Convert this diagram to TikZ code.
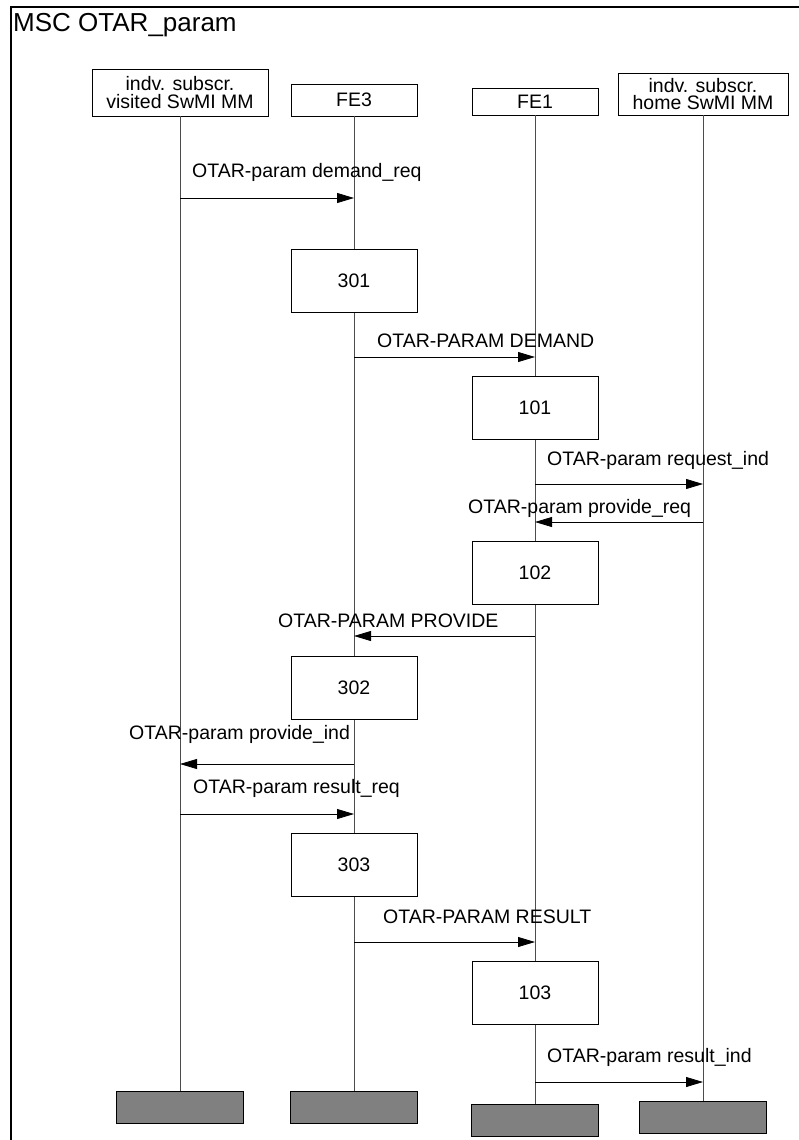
\documentclass[tikz,border=0pt]{standalone}
\usepackage{fontspec}
\setmainfont{Liberation Sans}
\usetikzlibrary{arrows.meta, positioning}
\tikzset{
  ent/.style={rectangle, draw=black, fill=white, line width=0.8pt,
              inner sep=0pt, align=center,
              font=\fontsize{19.5}{17.5}\selectfont},
  act/.style={rectangle, draw=black, fill=white, line width=0.8pt,
              minimum width=126pt, minimum height=63pt, inner sep=0pt,
              font=\fontsize{19.5}{20}\selectfont},
  endbox/.style={rectangle, draw=black, fill=black!50, line width=1pt,
              minimum width=127pt, minimum height=32pt, inner sep=0pt},
  life/.style={line width=0.8pt, black!70},
  msg/.style={line width=0.8pt, black, -{Triangle[length=17pt, width=10pt]}},
  lab/.style={anchor=base west, inner sep=0pt,
              font=\fontsize{19.5}{20}\selectfont},
}
\begin{document}
\begin{tikzpicture}[x=1pt, y=-1pt]
  \useasboundingbox (0,0) rectangle (799,1140);
  \draw[line width=2pt] (801,7) -- (11,7) -- (11,1142);
  \node[anchor=base west, inner sep=0pt, font=\fontsize{26}{28}\selectfont]
    (title) at (13,32) {MSC OTAR\_param};

  % instances
  \node[ent, minimum width=176pt, minimum height=47pt] (vis) at (180,92.5)
    {indv. subscr.\\visited SwMI MM};
  \node[ent, minimum width=126pt, minimum height=32pt] (fe3) at (354,100) {FE3};
  \node[ent, minimum width=126pt, minimum height=27pt] (fe1) at (535,101.5) {FE1};
  \node[ent, minimum width=170pt, minimum height=42pt] (home) at (703,94)
    {indv. subscr.\\home SwMI MM};

  % instance ends
  \node[endbox] (visend) at (180,1107) {};
  \node[endbox] (fe3end) at (354,1107) {};
  \node[endbox] (fe1end) at (535,1120) {};
  \node[endbox] (homeend) at (703,1117) {};

  \draw[life] (vis) -- (visend);
  \draw[life] (fe3) -- (fe3end);
  \draw[life] (fe1) -- (fe1end);
  \draw[life] (home) -- (homeend);

  % actions
  \node[act] (a301) at (354,281) {301};
  \node[act] (a101) at (535,407.5) {101};
  \node[act] (a102) at (535,572.5) {102};
  \node[act] (a302) at (354,687.5) {302};
  \node[act] (a303) at (354,864.5) {303};
  \node[act] (a103) at (535,992.5) {103};

  % messages
  \coordinate (y1) at (0,198);
  \coordinate (y2) at (0,357);
  \coordinate (y3) at (0,484);
  \coordinate (y4) at (0,522);
  \coordinate (y5) at (0,636);
  \coordinate (y6) at (0,764);
  \coordinate (y7) at (0,814);
  \coordinate (y8) at (0,942);
  \coordinate (y9) at (0,1082);
  \draw[msg] (vis |- y1) -- (fe3 |- y1);
  \draw[msg] (fe3 |- y2) -- (fe1 |- y2);
  \draw[msg] (fe1 |- y3) -- (home |- y3);
  \draw[msg] (home |- y4) -- (fe1 |- y4);
  \draw[msg] (fe1 |- y5) -- (fe3 |- y5);
  \draw[msg] (fe3 |- y6) -- (vis |- y6);
  \draw[msg] (vis |- y7) -- (fe3 |- y7);
  \draw[msg] (fe3 |- y8) -- (fe1 |- y8);
  \draw[msg] (fe1 |- y9) -- (home |- y9);
  \node[lab] (l1) at (192,177) {OTAR-param demand\_req};
  \node[lab] (l2) at (377,347) {OTAR-PARAM DEMAND};
  \node[lab] (l3) at (547,465) {OTAR-param request\_ind};
  \node[lab] (l4) at (468,513) {OTAR-param provide\_req};
  \node[lab] (l5) at (278,627) {OTAR-PARAM PROVIDE};
  \node[lab] (l6) at (129,739) {OTAR-param provide\_ind};
  \node[lab] (l7) at (193,793) {OTAR-param result\_req};
  \node[lab] (l8) at (383,923) {OTAR-PARAM RESULT};
  \node[lab] (l9) at (547,1062) {OTAR-param result\_ind};
\end{tikzpicture}
\end{document}
